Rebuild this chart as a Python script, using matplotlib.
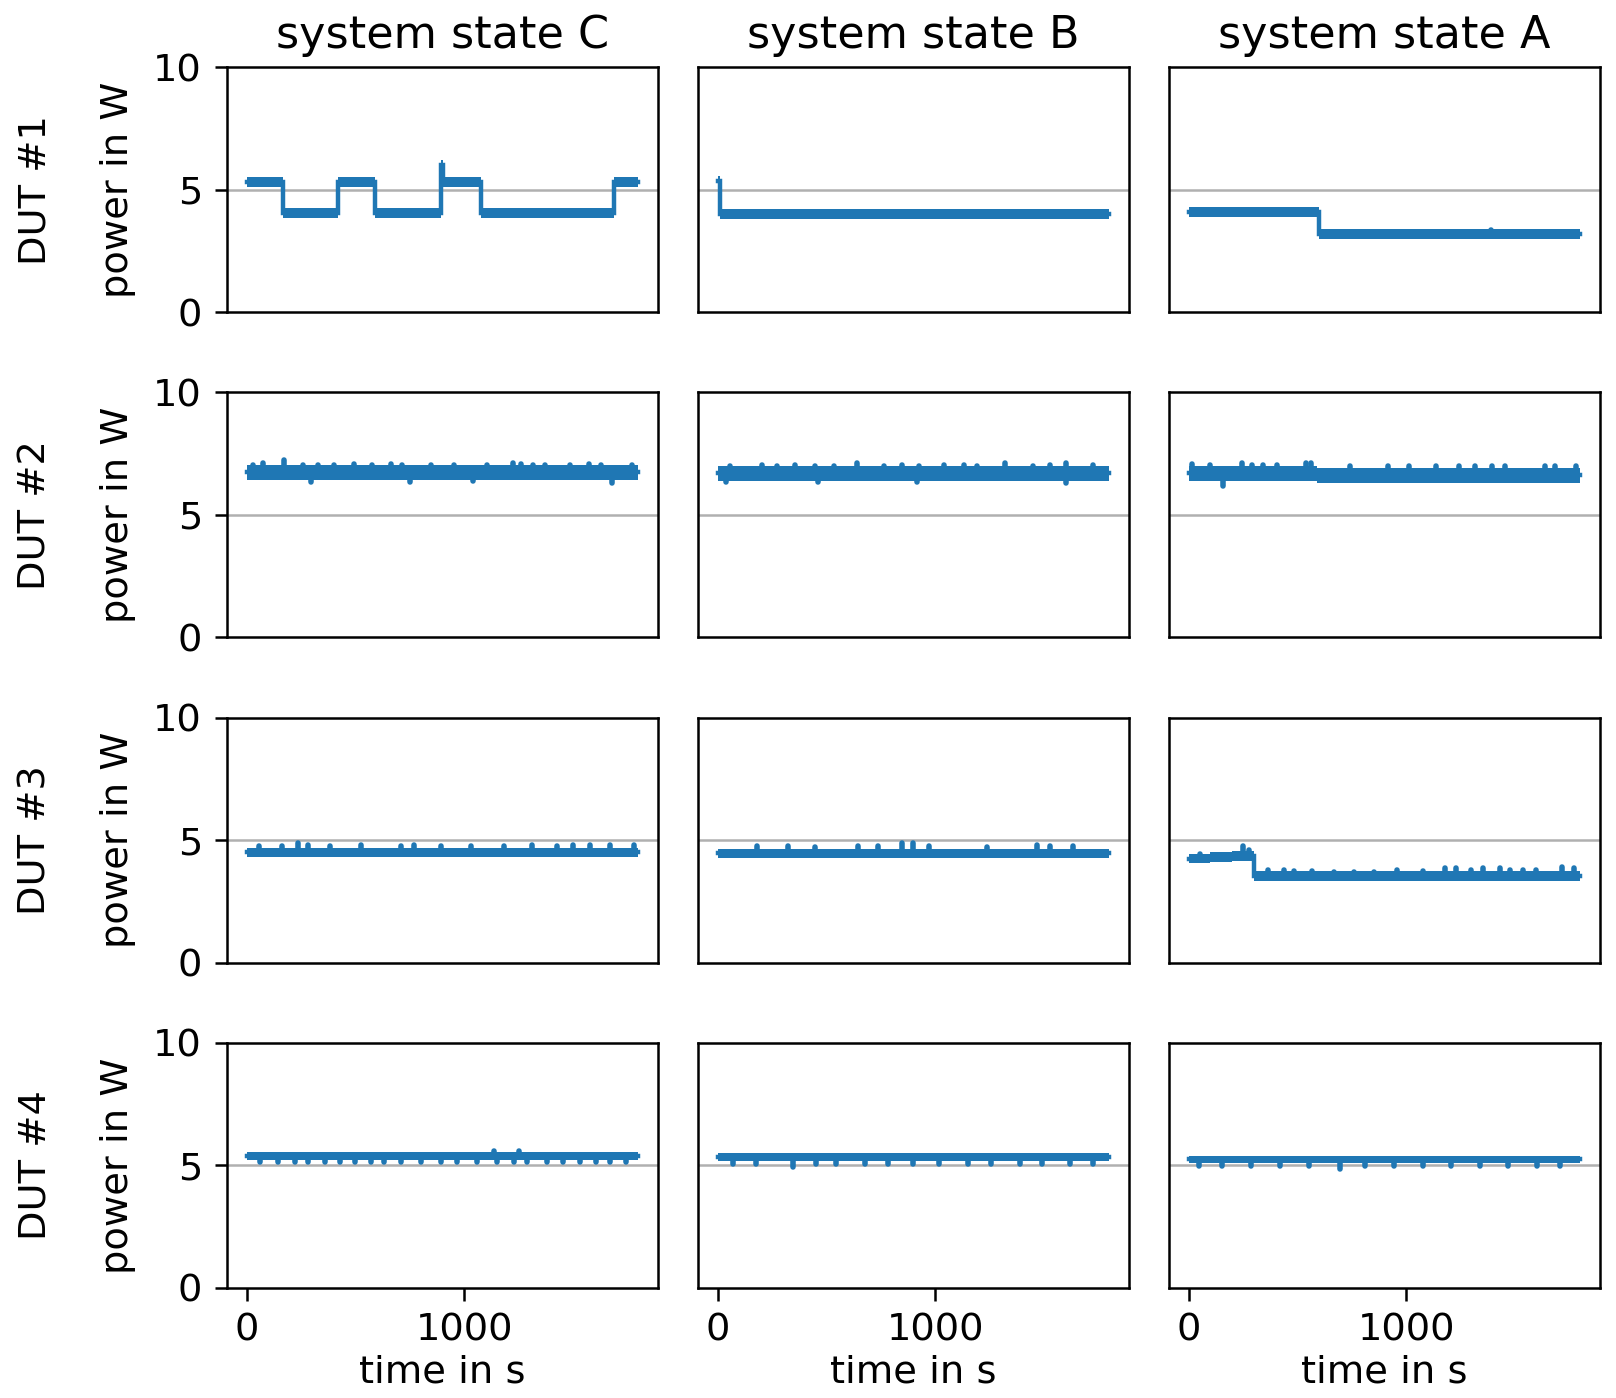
import numpy as np
import matplotlib
matplotlib.use("Agg")
import matplotlib.pyplot as plt

plt.rcParams["font.family"] = ["DejaVu Sans"]

states = ["system state C", "system state B", "system state A"]
duts = ["DUT #1", "DUT #2", "DUT #3", "DUT #4"]
trace_color = "#1f77b4"

# Step profiles: change times (s) and the power level (W) held after each time
# DUT #1
d1c_time = [0, 168, 418, 592, 893, 903, 1076, 1688, 1800]
d1c_power = [5.32, 4.05, 5.32, 4.05, 6.0, 5.32, 4.05, 5.32]
d1b_time = [0, 12, 1800]
d1b_power = [5.35, 4.02]
d1a_time = [0, 598, 1800]
d1a_power = [4.08, 3.18]
# DUT #2
d2c_time = [0, 1800]
d2c_power = [6.74]
d2b_time = [0, 1800]
d2b_power = [6.69]
d2a_time = [0, 588, 1800]
d2a_power = [6.70, 6.62]
# DUT #3
d3c_time = [0, 1800]
d3c_power = [4.50]
d3b_time = [0, 1800]
d3b_power = [4.46]
d3a_time = [0, 100, 200, 300, 1800]
d3a_power = [4.25, 4.30, 4.35, 3.55]
# DUT #4
d4c_time = [0, 1800]
d4c_power = [5.40]
d4b_time = [0, 1800]
d4b_power = [5.34]
d4a_time = [0, 1800]
d4a_power = [5.25]

# Noise spread below / above the level (W)
d1_spread = (0.2, 0.2)
d2_spread = (0.31, 0.31)
d3_spread = (0.2, 0.2)
d4_spread = (0.16, 0.15)

# Visible excursions: (time in s, power in W)
d1c_peaks = []
d1b_peaks = []
d1a_peaks = [(1388, 3.35)]
d2c_peaks = [(30, 7.05), (76, 7.12), (174, 7.22), (259, 7.05), (327, 7.05), (402, 7.05),
             (494, 7.08), (578, 7.05), (662, 7.08), (715, 7.05), (845, 7.05), (951, 7.05),
             (1104, 7.05), (1224, 7.1), (1263, 7.08), (1316, 7.05), (1369, 7.05),
             (1484, 7.05), (1575, 7.08), (1629, 7.05), (1772, 7.05),
             (297, 6.35), (753, 6.35), (1041, 6.38), (1680, 6.32)]
d2b_peaks = [(58, 7.0), (202, 7.05), (271, 7.0), (355, 7.05), (446, 7.0), (537, 7.0),
             (641, 7.12), (766, 7.0), (849, 7.05), (925, 7.0), (1040, 7.05), (1131, 7.05),
             (1192, 7.0), (1320, 7.12), (1451, 7.0), (1527, 7.05), (1600, 7.1), (1725, 7.05),
             (38, 6.35), (460, 6.35), (915, 6.35), (1600, 6.3)]
d2a_peaks = [(17, 7.08), (100, 7.05), (245, 7.1), (291, 7.05), (344, 7.05), (405, 7.05),
             (542, 7.12), (565, 7.1), (740, 6.98), (915, 6.98), (1014, 6.98), (1136, 6.98),
             (1242, 6.98), (1318, 6.98), (1394, 6.98), (1455, 6.98), (1638, 6.98),
             (1684, 6.98), (1781, 6.98), (160, 6.18)]
d3c_peaks = [(55, 4.78), (161, 4.78), (234, 4.9), (283, 4.8), (382, 4.78), (527, 4.8),
             (709, 4.78), (770, 4.8), (892, 4.78), (1029, 4.78), (1181, 4.78), (1311, 4.8),
             (1425, 4.78), (1501, 4.8), (1577, 4.82), (1668, 4.8), (1782, 4.82)]
d3b_peaks = [(180, 4.75), (324, 4.75), (446, 4.72), (644, 4.75), (735, 4.75), (849, 4.88),
             (900, 4.88), (971, 4.75), (1237, 4.72), (1466, 4.82), (1527, 4.75), (1633, 4.75)]
d3a_peaks = [(52, 4.45), (250, 4.76), (280, 4.6), (364, 3.78), (440, 3.78), (485, 3.75),
             (569, 3.75), (668, 3.72), (760, 3.72), (851, 3.72), (957, 3.78), (1079, 3.75),
             (1178, 3.85), (1231, 3.85), (1300, 3.8), (1353, 3.85), (1429, 3.85),
             (1475, 3.8), (1536, 3.8), (1597, 3.78), (1718, 3.9), (1772, 3.85)]
d4c_peaks = [(62, 5.12), (146, 5.12), (222, 5.12), (283, 5.12), (359, 5.12), (428, 5.12),
             (496, 5.12), (572, 5.12), (633, 5.12), (709, 5.12), (800, 5.12), (892, 5.12),
             (968, 5.12), (1059, 5.12), (1151, 5.12), (1227, 5.12), (1288, 5.12),
             (1379, 5.12), (1455, 5.12), (1531, 5.12), (1607, 5.12), (1668, 5.12),
             (1744, 5.12), (1135, 5.6), (1250, 5.58)]
d4b_peaks = [(71, 5.04), (176, 5.04), (347, 4.92), (452, 5.04), (543, 5.04), (676, 5.04),
             (781, 5.04), (900, 5.04), (1018, 5.04), (1151, 5.04), (1256, 5.04),
             (1388, 5.04), (1493, 5.04), (1621, 5.04), (1726, 5.04)]
d4a_peaks = [(50, 4.96), (155, 4.96), (288, 4.96), (420, 4.96), (553, 4.96), (694, 4.86),
             (813, 4.96), (945, 4.96), (1078, 4.96), (1205, 4.96), (1338, 4.96),
             (1470, 4.96), (1603, 4.96), (1708, 4.96)]

panels = [
    [(d1c_time, d1c_power, d1_spread, d1c_peaks),
     (d1b_time, d1b_power, d1_spread, d1b_peaks),
     (d1a_time, d1a_power, d1_spread, d1a_peaks)],
    [(d2c_time, d2c_power, d2_spread, d2c_peaks),
     (d2b_time, d2b_power, d2_spread, d2b_peaks),
     (d2a_time, d2a_power, d2_spread, d2a_peaks)],
    [(d3c_time, d3c_power, d3_spread, d3c_peaks),
     (d3b_time, d3b_power, d3_spread, d3b_peaks),
     (d3a_time, d3a_power, d3_spread, d3a_peaks)],
    [(d4c_time, d4c_power, d4_spread, d4c_peaks),
     (d4b_time, d4b_power, d4_spread, d4b_peaks),
     (d4a_time, d4a_power, d4_spread, d4a_peaks)],
]

fig, axes = plt.subplots(4, 3, figsize=(8.08, 6.99), dpi=200, sharex=True, sharey=True)
fig.subplots_adjust(left=0.1405, right=0.990, top=0.952, bottom=0.0787,
                    wspace=0.093, hspace=0.327)

for r, row in enumerate(panels):
    for c, (t, p, spread, peaks) in enumerate(row):
        ax = axes[r, c]
        t = np.asarray(t, dtype=float)
        lvl = np.asarray(p + [p[-1]], dtype=float)
        ax.axhline(5, color="#b0b0b0", lw=0.9, zorder=1)
        ax.fill_between(t, lvl - spread[0], lvl + spread[1], step="post",
                        color=trace_color, lw=0, zorder=2)
        ax.step(t, lvl, where="post", color=trace_color, lw=1.6,
                solid_joinstyle="miter", zorder=3)
        if peaks:
            pt = np.array([k[0] for k in peaks], dtype=float)
            pv = np.array([k[1] for k in peaks], dtype=float)
            idx = np.clip(np.searchsorted(t, pt, side="right") - 1, 0, len(p) - 1)
            base = np.asarray(p, dtype=float)[idx]
            vl = ax.vlines(pt, base, pv, color=trace_color, lw=2.0, zorder=3)
            vl.set_capstyle("round")

        ax.set_ylim(0, 10)
        ax.set_xlim(-90, 1890)
        ax.set_yticks([0, 5, 10])
        ax.set_xticks([0, 1000])
        ax.tick_params(length=4.5, width=0.9, pad=4.5, labelsize=13.8)
        for s in ax.spines.values():
            s.set_linewidth(0.9)
        if c != 0:
            ax.tick_params(axis="y", left=False, labelleft=False)
        if r != 3:
            ax.tick_params(axis="x", bottom=False, labelbottom=False)
        else:
            ax.set_xlabel("time in s", labelpad=2, fontsize=13.8)
        if r == 0:
            ax.set_title(states[c], pad=7, fontsize=16)
        if c == 0:
            ax.text(-0.253, 0.5, "power in W", rotation=90, ha="center", va="center",
                    fontsize=13.8, transform=ax.transAxes)
            ax.text(-0.445, 0.5, duts[r], rotation=90, ha="center", va="center",
                    fontsize=13.8, transform=ax.transAxes)

fig.savefig("out.png", dpi=200)
